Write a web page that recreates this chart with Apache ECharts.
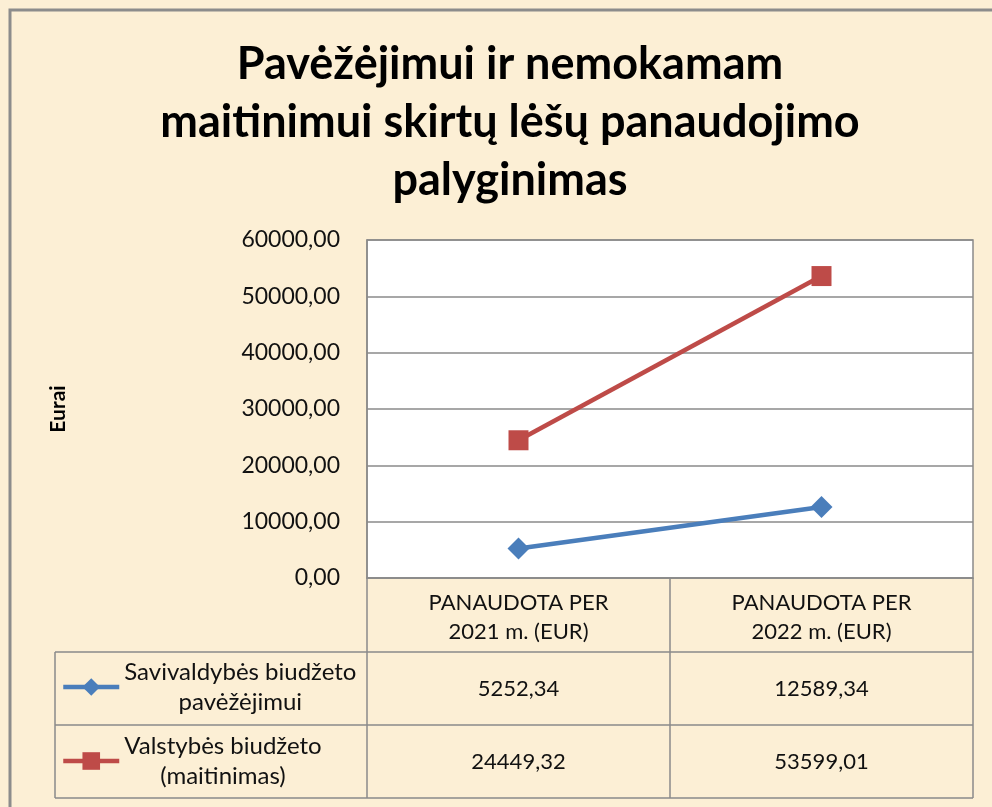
<!DOCTYPE html>
<html>
<head>
<meta charset="utf-8">
<script src="https://cdn.jsdelivr.net/npm/echarts@6/dist/echarts.min.js"></script>
<style>
  html, body { margin: 0; padding: 0; background: #fcefd5; }
  #chart { width: 992px; height: 807px; }
</style>
</head>
<body>
<div id="chart"></div>
<script>
// duomenys
const categories = ['PANAUDOTA PER\n2021 m. (EUR)', 'PANAUDOTA PER\n2022 m. (EUR)'];
const seriesNames = ['Savivaldybės biudžeto pavėžėjimui', 'Valstybės biudžeto (maitinimas)'];
const savivaldybes = [5252.34, 12589.34];
const valstybes = [24449.32, 53599.01];
const yTicks = [0, 10000, 20000, 30000, 40000, 50000, 60000];

const FONT = 'Lato, "Noto Sans", sans-serif';
const GRAY = '#8a8a8a';

const fmt = v => v.toFixed(2).replace('.', ',');

const chart = echarts.init(document.getElementById('chart'));

// legendos tekstas: dvi eilutes, centruotos
function legendText(name) {
  const i = name.indexOf('biudžeto') + 'biudžeto'.length;
  return '{a|' + name.slice(0, i) + '}\n{a|' + name.slice(i + 1) + '}';
}
const legendRich = {
  a: { fontFamily: FONT, fontSize: 24, color: '#111', lineHeight: 30, align: 'center' }
};

function rowAxis(values, offset) {
  return {
    type: 'category',
    position: 'bottom',
    offset: offset,
    data: categories,
    axisLine: { show: false },
    axisTick: { show: false },
    axisLabel: {
      margin: 0,
      lineHeight: 24,
      fontFamily: FONT,
      fontSize: 22,
      color: '#111',
      formatter: (v, i) => fmt(values[i])
    }
  };
}

const option = {
  backgroundColor: '#fcefd5',
  animation: false,
  title: {
    text: 'Pavėžėjimui ir nemokamam\nmaitinimui skirtų lėšų panaudojimo\npalyginimas',
    left: 505,
    top: 30,
    textAlign: 'center',
    textStyle: {
      fontFamily: FONT,
      fontSize: 45,
      fontWeight: 'bold',
      lineHeight: 58,
      color: '#000'
    }
  },
  legend: [0, 1].map(k => ({
    data: [seriesNames[k]],
    left: 56,
    top: k === 0 ? 655 : 729,
    itemWidth: 56,
    itemHeight: 22,
    itemGap: 4,
    selectedMode: false,
    lineStyle: { width: 4.5 },
    formatter: legendText,
    textStyle: { fontFamily: FONT, fontSize: 24, rich: legendRich, padding: 0 }
  })),
  grid: {
    left: 367,
    right: 19,
    top: 240,
    bottom: 229,
    show: true,
    backgroundColor: '#ffffff',
    borderColor: GRAY,
    borderWidth: 1.5
  },
  xAxis: [
    {
      type: 'category',
      data: categories,
      boundaryGap: true,
      axisLine: { show: true, lineStyle: { color: GRAY, width: 1.5 } },
      axisTick: { show: true, length: 220, lineStyle: { color: GRAY, width: 1.5 } },
      axisLabel: {
        margin: 10,
        lineHeight: 29,
        fontFamily: FONT,
        fontSize: 22,
        color: '#111'
      }
    },
    rowAxis(savivaldybes, 99),
    rowAxis(valstybes, 172)
  ],
  yAxis: {
    type: 'value',
    min: yTicks[0],
    max: yTicks[yTicks.length - 1],
    interval: yTicks[1] - yTicks[0],
    name: 'Eurai',
    nameLocation: 'middle',
    nameRotate: 90,
    nameGap: 298,
    nameTextStyle: { fontFamily: FONT, fontSize: 21, fontWeight: 'bold', color: '#000' },
    axisLine: { show: true, lineStyle: { color: GRAY, width: 1.5 } },
    axisTick: { show: false },
    splitLine: { lineStyle: { color: GRAY, width: 1.5 } },
    axisLabel: {
      margin: 27,
      fontFamily: FONT,
      fontSize: 23,
      color: '#111',
      formatter: v => fmt(v)
    }
  },
  series: [
    {
      name: seriesNames[0],
      type: 'line',
      data: savivaldybes,
      symbol: 'diamond',
      symbolSize: 22,
      lineStyle: { color: '#4a7ebb', width: 4.5 },
      itemStyle: { color: '#4a7ebb' }
    },
    {
      name: seriesNames[1],
      type: 'line',
      data: valstybes,
      symbol: 'rect',
      symbolSize: 20,
      lineStyle: { color: '#be4b48', width: 4.5 },
      itemStyle: { color: '#be4b48' }
    }
  ]
};

chart.setOption(option);

// lenteles rėmeliai ir išorinis kontūras
const lineStyle = { stroke: GRAY, lineWidth: 1.5 };
chart.setOption({
  graphic: [
    { type: 'rect', shape: { x: 10, y: 10, width: 1000, height: 820 },
      style: { fill: 'none', stroke: '#8c8c8c', lineWidth: 3 }, z: 100 },
    { type: 'line', shape: { x1: 55, y1: 652, x2: 973, y2: 652 }, style: lineStyle },
    { type: 'line', shape: { x1: 55, y1: 725, x2: 973, y2: 725 }, style: lineStyle },
    { type: 'line', shape: { x1: 55, y1: 798, x2: 973, y2: 798 }, style: lineStyle },
    { type: 'line', shape: { x1: 55, y1: 652, x2: 55, y2: 798 }, style: lineStyle }
  ]
});
</script>
</body>
</html>
